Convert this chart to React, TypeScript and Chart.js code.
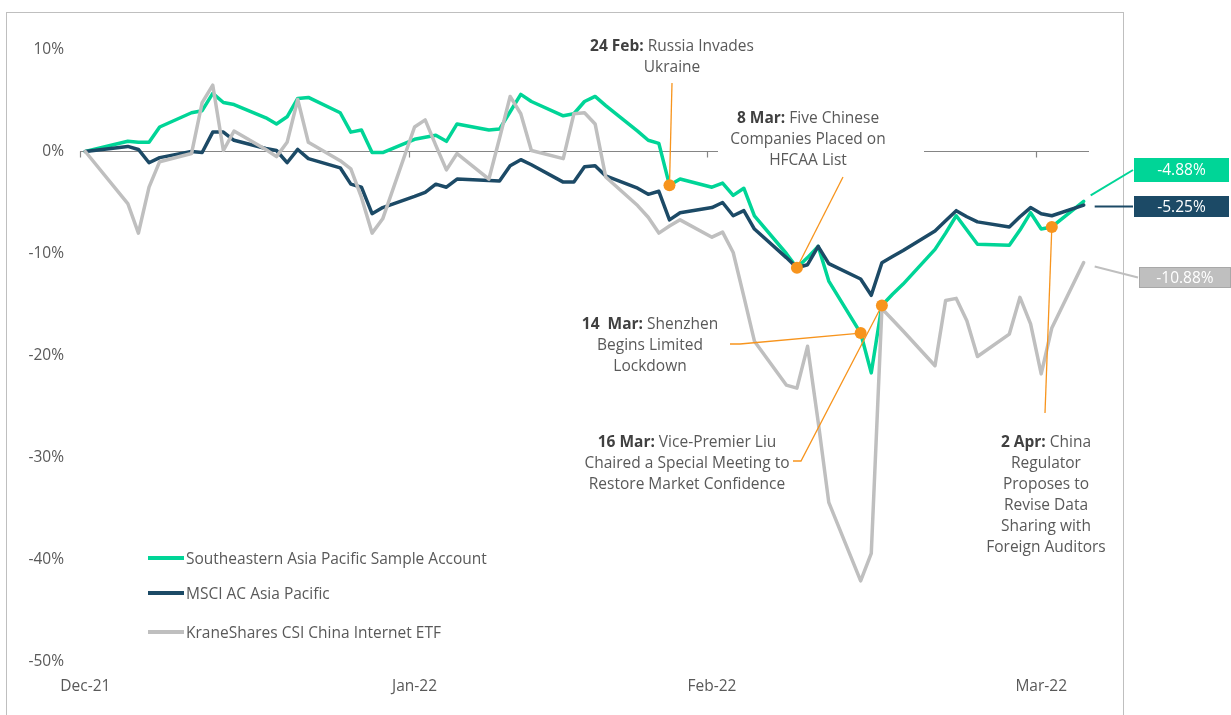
import { useEffect, useRef } from "react";
import { Chart, registerables } from "chart.js";
Chart.register(...registerables);

const FONT = "'Open Sans', sans-serif";
const FS = 15.5;

const dates = [
  "2021-12-31", "2022-01-04", "2022-01-05", "2022-01-06", "2022-01-07",
  "2022-01-10", "2022-01-11", "2022-01-12", "2022-01-13", "2022-01-14",
  "2022-01-17", "2022-01-18", "2022-01-19", "2022-01-20", "2022-01-21",
  "2022-01-24", "2022-01-25", "2022-01-26", "2022-01-27", "2022-01-28",
  "2022-01-31", "2022-02-01", "2022-02-02", "2022-02-03", "2022-02-04",
  "2022-02-07", "2022-02-08", "2022-02-09", "2022-02-10", "2022-02-11",
  "2022-02-14", "2022-02-15", "2022-02-16", "2022-02-17", "2022-02-18",
  "2022-02-21", "2022-02-22", "2022-02-23", "2022-02-24", "2022-02-25",
  "2022-02-28", "2022-03-01", "2022-03-02", "2022-03-03", "2022-03-04",
  "2022-03-07", "2022-03-08", "2022-03-09", "2022-03-10", "2022-03-11",
  "2022-03-14", "2022-03-15", "2022-03-16", "2022-03-17", "2022-03-18",
  "2022-03-21", "2022-03-22", "2022-03-23", "2022-03-24", "2022-03-25",
  "2022-03-28", "2022-03-29", "2022-03-30", "2022-03-31", "2022-04-01",
  "2022-04-04",
];

const accountReturns = [
  0, 1.0, 0.9, 0.9, 2.4,
  3.8, 4.0, 5.7, 4.8, 4.6,
  3.3, 2.7, 3.4, 5.2, 5.3,
  3.8, 1.9, 2.1, -0.1, -0.1,
  1.2, 1.4, 1.6, 1.0, 2.7,
  2.1, 2.2, 3.9, 5.6, 4.9,
  3.5, 3.7, 4.9, 5.4, 4.5,
  2.0, 1.1, 0.8, -3.3, -2.7,
  -3.5, -3.1, -4.3, -3.6, -6.3,
  -10.0, -11.4, -10.4, -9.3, -12.7,
  -17.8, -21.7, -15.1, -14.0, -13.0,
  -9.6, -8.0, -6.3, -7.7, -9.1,
  -9.2, -7.7, -6.0, -7.6, -7.4,
  -4.88,
];

const msciReturns = [
  0, 0.5, 0.2, -1.1, -0.6,
  0.0, -0.1, 1.9, 1.9, 1.1,
  0.3, 0.1, -1.1, 0.2, -0.7,
  -1.6, -3.2, -3.5, -6.1, -5.5,
  -4.4, -4.0, -3.2, -3.5, -2.7,
  -2.85, -2.9, -1.4, -0.8, -1.3,
  -3.0, -3.0, -1.5, -1.4, -2.4,
  -3.6, -4.2, -3.9, -6.7, -6.0,
  -5.5, -5.0, -6.3, -5.8, -7.6,
  -10.4, -11.4, -11.1, -9.3, -11.0,
  -12.5, -14.1, -10.9, -10.3, -9.7,
  -7.8, -6.8, -5.8, -6.4, -6.9,
  -7.4, -6.4, -5.5, -6.1, -6.3,
  -5.25,
];

const kwebReturns = [
  0, -5.1, -8.0, -3.5, -1.0,
  -0.2, 4.8, 6.5, 0.1, 2.0,
  0.2, -0.5, 0.9, 5.1, 0.9,
  -0.9, -1.7, -4.5, -8.0, -6.6,
  2.4, 3.1, 0.6, -1.8, -0.2,
  -2.7, 1.3, 5.4, 3.7, 0.1,
  -0.7, 3.7, 3.8, 2.7, -2.5,
  -5.3, -6.45, -8.0, -7.3, -6.7,
  -8.4, -7.9, -9.9, -14.2, -18.6,
  -22.9, -23.2, -19.1, -26.5, -34.4,
  -42.1, -39.4, -15.4, -16.5, -17.6,
  -21.0, -14.6, -14.4, -16.6, -20.1,
  -17.9, -14.3, -16.9, -21.8, -17.3,
  -10.88,
];

const seriesNames = [
  "Southeastern Asia Pacific Sample Account",
  "MSCI AC Asia Pacific",
  "KraneShares CSI China Internet ETF",
];
const seriesColors = ["#00D597", "#1C4A66", "#BFBFBF"];

const monthTickDates = ["2021-12-31", "2022-01-31", "2022-02-28", "2022-03-31"];
const monthTickLabels = ["Dec-21", "Jan-22", "Feb-22", "Mar-22"];
const yTickValues = [10, 0, -10, -20, -30, -40, -50];

const eventDates = ["2022-02-24", "2022-03-08", "2022-03-14", "2022-03-16", "2022-04-01"];
const eventHeads = ["24 Feb:", "8 Mar:", "14  Mar:", "16 Mar:", "2 Apr:"];
const eventTexts = [
  ["Russia Invades", "Ukraine"],
  ["Five Chinese", "Companies Placed on", "HFCAA List"],
  ["Shenzhen", "Begins Limited", "Lockdown"],
  ["Vice-Premier Liu", "Chaired a Special Meeting to", "Restore Market Confidence"],
  ["China", "Regulator", "Proposes to", "Revise Data", "Sharing with", "Foreign Auditors"],
];

// layout of the annotation text blocks (centre x, first line y, leader start points)
const eventLayout = [
  { cx: 672, y0: 46.5, lead: [[672, 83]] },
  { cx: 808, y0: 118.5, lead: [[843, 177]], box: [718, 104, 206, 68] },
  { cx: 650, y0: 324.5, lead: [[730, 344], [740, 344]] },
  { cx: 687, y0: 442.5, lead: [[793, 461], [801, 461]] },
  { cx: 1046, y0: 442.5, lead: [[1045, 413]] },
];

const base = Date.UTC(2021, 11, 31);
const dayOf = (s: string) => (Date.parse(s + "T00:00:00Z") - base) / 86400000;
const xOf = (s: string) => dayOf(s) + 0.5;

const fmt = (v: number) => v.toFixed(2) + "%";

const overlayPlugin = {
  id: "overlay",
  beforeDraw(chart: any) {
    const ctx = chart.ctx;
    ctx.save();
    ctx.fillStyle = "#ffffff";
    ctx.fillRect(0, 0, chart.width, chart.height);
    ctx.strokeStyle = "#BFBFBF";
    ctx.lineWidth = 1;
    ctx.strokeRect(6.5, 12.5, 1117, 760);
    ctx.restore();
  },
  beforeDatasetsDraw(chart: any) {
    const ctx = chart.ctx;
    const xs = chart.scales.x;
    const ys = chart.scales.y;
    const y0 = Math.round(ys.getPixelForValue(0)) + 0.5;
    ctx.save();
    ctx.strokeStyle = "#858585";
    ctx.lineWidth = 1.2;
    ctx.beginPath();
    ctx.moveTo(xs.getPixelForValue(0), y0);
    ctx.lineTo(xs.getPixelForValue(95), y0);
    monthTickDates.forEach((d) => {
      const px = Math.round(xs.getPixelForValue(dayOf(d))) + 0.5;
      ctx.moveTo(px, y0);
      ctx.lineTo(px, y0 + 6);
    });
    ctx.stroke();
    ctx.restore();
  },
  afterDatasetsDraw(chart: any) {
    const ctx = chart.ctx;
    const xs = chart.scales.x;
    const ys = chart.scales.y;
    ctx.save();

    // annotations
    eventDates.forEach((d, i) => {
      const idx = dates.indexOf(d);
      const px = xs.getPixelForValue(xOf(d));
      const py = ys.getPixelForValue(accountReturns[idx]);
      const lay: any = eventLayout[i];
      if (lay.box) {
        ctx.fillStyle = "#ffffff";
        ctx.fillRect(lay.box[0], lay.box[1], lay.box[2], lay.box[3]);
      }
      ctx.strokeStyle = "#F7941D";
      ctx.lineWidth = 1.3;
      ctx.beginPath();
      ctx.moveTo(lay.lead[0][0], lay.lead[0][1]);
      for (let k = 1; k < lay.lead.length; k++) ctx.lineTo(lay.lead[k][0], lay.lead[k][1]);
      ctx.lineTo(px, py);
      ctx.stroke();

      const lines = eventTexts[i];
      ctx.textBaseline = "middle";
      ctx.textAlign = "left";
      lines.forEach((t, li) => {
        const y = lay.y0 + li * 21;
        const parts = li === 0 ? [{ t: eventHeads[i], b: true }, { t: " " + t, b: false }] : [{ t, b: false }];
        const widths = parts.map((p) => {
          ctx.font = `${p.b ? 700 : 400} ${FS}px ${FONT}`;
          return ctx.measureText(p.t).width;
        });
        let x = lay.cx - widths.reduce((a, b) => a + b, 0) / 2;
        parts.forEach((p, pi) => {
          ctx.font = `${p.b ? 700 : 400} ${FS}px ${FONT}`;
          ctx.fillStyle = p.b ? "#404040" : "#595959";
          ctx.fillText(p.t, x, y);
          x += widths[pi];
        });
      });
    });

    // event dots
    eventDates.forEach((d) => {
      const idx = dates.indexOf(d);
      const px = xs.getPixelForValue(xOf(d));
      const py = ys.getPixelForValue(accountReturns[idx]);
      ctx.fillStyle = "#F7941D";
      ctx.beginPath();
      ctx.arc(px, py, 6, 0, Math.PI * 2);
      ctx.fill();
    });

    // legend
    const legendRows = [558, 593, 632];
    seriesNames.forEach((n, i) => {
      const y = legendRows[i];
      ctx.strokeStyle = seriesColors[i];
      ctx.lineWidth = 4;
      ctx.beginPath();
      ctx.moveTo(148, y);
      ctx.lineTo(184, y);
      ctx.stroke();
      ctx.font = `400 ${FS}px ${FONT}`;
      ctx.fillStyle = "#595959";
      ctx.textAlign = "left";
      ctx.textBaseline = "middle";
      ctx.fillText(n, 186, y + 1.5);
    });

    // end labels
    const lastIdx = dates.length - 1;
    const lastX = xs.getPixelForValue(xOf(dates[lastIdx]));
    const series = [accountReturns, msciReturns, kwebReturns];
    const boxes = [
      { x: 1134, y: 158, w: 95, h: 24, start: [7, -6], stroke: seriesColors[0] },
      { x: 1134, y: 196, w: 95, h: 21, start: [11, 1.5], stroke: seriesColors[1] },
      { x: 1139, y: 267, w: 92, h: 21, start: [11, 4], stroke: "#A8A8A8" },
    ];
    series.forEach((s, i) => {
      const v = s[lastIdx];
      const py = ys.getPixelForValue(v);
      const b = boxes[i];
      ctx.strokeStyle = seriesColors[i];
      ctx.lineWidth = 2;
      ctx.beginPath();
      ctx.moveTo(lastX + b.start[0], py + b.start[1]);
      ctx.lineTo(b.x - 1, b.y + b.h / 2);
      ctx.stroke();
      ctx.fillStyle = seriesColors[i];
      ctx.fillRect(b.x, b.y, b.w, b.h);
      ctx.strokeStyle = b.stroke;
      ctx.lineWidth = 1;
      ctx.strokeRect(b.x + 0.5, b.y + 0.5, b.w - 1, b.h - 1);
      ctx.fillStyle = "#ffffff";
      ctx.font = `400 ${FS}px ${FONT}`;
      ctx.textAlign = "center";
      ctx.textBaseline = "middle";
      ctx.fillText(fmt(v), b.x + b.w / 2, b.y + b.h / 2 + 1);
    });

    ctx.restore();
  },
};

export default function App() {
  const ref = useRef<HTMLCanvasElement | null>(null);
  useEffect(() => {
    if (!ref.current) return;
    Chart.defaults.font.family = FONT;
    const mk = (vals: number[]) => vals.map((v, i) => ({ x: xOf(dates[i]), y: v }));
    const chart = new Chart(ref.current, {
      type: "line",
      data: {
        datasets: [
          { label: seriesNames[0], data: mk(accountReturns), borderColor: seriesColors[0], order: 3 },
          { label: seriesNames[1], data: mk(msciReturns), borderColor: seriesColors[1], order: 2 },
          { label: seriesNames[2], data: mk(kwebReturns), borderColor: seriesColors[2], order: 1 },
        ].map((d) => ({
          ...d,
          borderWidth: 3.5,
          pointRadius: 0,
          tension: 0,
          fill: false,
          borderJoinStyle: "round" as const,
          borderCapStyle: "round" as const,
        })),
      },
      options: {
        responsive: false,
        animation: false,
        devicePixelRatio: 1,
        layout: { padding: { left: 0, right: 142, top: 49.5, bottom: 0 } },
        plugins: { legend: { display: false }, tooltip: { enabled: false } },
        scales: {
          x: {
            type: "linear",
            min: 0,
            max: 95,
            grid: { display: false, drawTicks: false },
            border: { display: false },
            afterBuildTicks: (s: any) => {
              s.ticks = monthTickDates.map((d) => ({ value: xOf(d) }));
            },
            afterFit: (s: any) => {
              s.height = 53.5;
            },
            ticks: {
              autoSkip: false,
              maxRotation: 0,
              padding: 16,
              color: "#595959",
              font: { size: FS, family: FONT },
              callback: (_v: any, i: number) => monthTickLabels[i],
            },
          },
          y: {
            min: -50,
            max: 10,
            grid: { display: false, drawTicks: false },
            border: { display: false },
            afterBuildTicks: (s: any) => {
              s.ticks = yTickValues.map((v) => ({ value: v }));
            },
            afterFit: (s: any) => {
              s.width = 80;
            },
            ticks: {
              padding: 16,
              color: "#595959",
              font: { size: FS, family: FONT },
              callback: (v: any) => v + "%",
            },
          },
        },
      },
      plugins: [overlayPlugin],
    });
    return () => chart.destroy();
  }, []);
  return (
    <div style={{ position: "fixed", left: 0, top: 0, width: 1231, height: 715, background: "#fff" }}>
      <canvas ref={ref} width={1231} height={715} style={{ display: "block" }} />
    </div>
  );
}
